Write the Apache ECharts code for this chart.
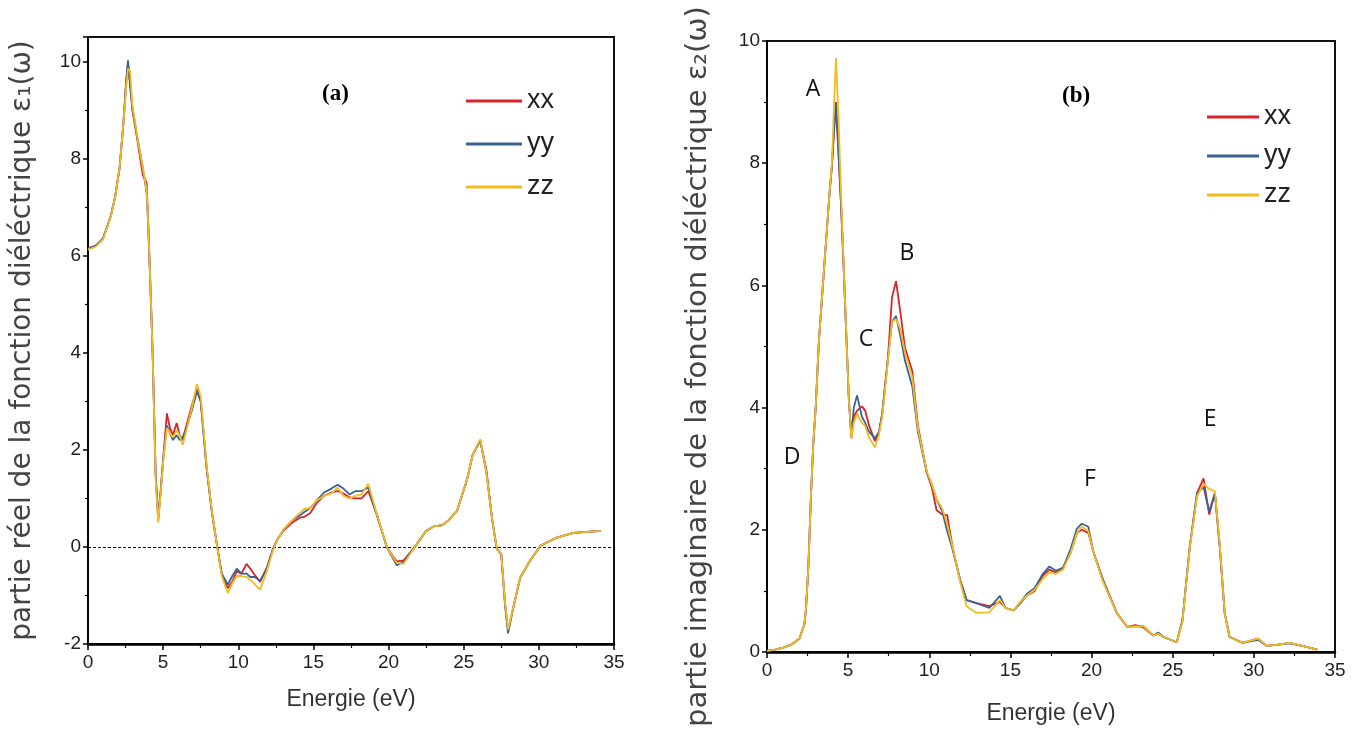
<!DOCTYPE html>
<html>
<head>
<meta charset="utf-8">
<script src="https://cdn.jsdelivr.net/npm/echarts@6/dist/echarts.min.js"></script>
<style>
  html, body { margin: 0; padding: 0; background: #fff; }
  #chart { width: 1363px; height: 751px; }
</style>
</head>
<body>
<div id="chart"></div>
<script>
// energies (eV) for panel (a) - real part
var energyA = [
  0, 0.5, 1.0, 1.5, 1.8, 2.1, 2.35, 2.55, 2.66, 2.8,
  2.95, 3.3, 3.65, 3.9, 4.0, 4.13, 4.3, 4.5, 4.67, 4.85,
  5.0, 5.25, 5.45, 5.65, 5.9, 6.1, 6.3, 6.55, 6.9, 7.25,
  7.5, 7.9, 8.25, 8.6, 8.9, 9.3, 9.6, 9.9, 10.2, 10.55,
  10.8, 11.1, 11.45, 11.9, 12.3, 12.6, 13.0, 13.6, 14.1, 14.4,
  14.8, 15.2, 15.7, 16.2, 16.6, 17.0, 17.4, 17.8, 18.2, 18.65,
  19.2, 19.9, 20.55, 21.0, 21.75, 22.5, 23.0, 23.6, 24.0, 24.55,
  25.2, 25.6, 26.1, 26.5, 26.9, 27.2, 27.5, 27.75, 27.95, 28.3,
  28.75, 29.4, 30.1, 30.6, 31.2, 32.3, 33.2, 34.1
];
var eps1xx = [
  6.15, 6.2, 6.35, 6.8, 7.2, 7.8, 8.7, 9.6, 9.95, 9.55,
  9.0, 8.35, 7.65, 7.5, 6.75, 5.6, 4.0, 1.5, 0.6, 1.2,
  1.8, 2.75, 2.45, 2.3, 2.55, 2.3, 2.2, 2.5, 2.9, 3.25,
  3.0, 1.6, 0.7, 0.0, -0.55, -0.85, -0.72, -0.5, -0.55, -0.35,
  -0.45, -0.58, -0.72, -0.43, -0.05, 0.15, 0.33, 0.5, 0.6, 0.62,
  0.7, 0.9, 1.05, 1.12, 1.15, 1.1, 1.02, 1.0, 1.0, 1.15,
  0.68, -0.02, -0.3, -0.28, 0.0, 0.33, 0.42, 0.45, 0.55, 0.74,
  1.36, 1.9, 2.19, 1.6, 0.55, -0.04, -0.15, -1.18, -1.73, -1.25,
  -0.64, -0.29, 0.02, 0.1, 0.19, 0.29, 0.31, 0.33
];
var eps1yy = [
  6.15, 6.2, 6.35, 6.8, 7.2, 7.8, 8.7, 9.65, 10.02, 9.5,
  9.05, 8.4, 7.8, 7.3, 6.65, 5.55, 4.0, 1.5, 0.55, 1.2,
  1.8, 2.5, 2.35, 2.2, 2.3, 2.2, 2.25, 2.45, 2.8, 3.2,
  3.0, 1.6, 0.7, 0.0, -0.55, -0.78, -0.6, -0.45, -0.55, -0.55,
  -0.62, -0.62, -0.7, -0.45, -0.05, 0.15, 0.35, 0.55, 0.65, 0.72,
  0.8, 0.95, 1.12, 1.2, 1.28, 1.2, 1.08, 1.15, 1.15, 1.22,
  0.68, -0.02, -0.38, -0.3, 0.0, 0.33, 0.42, 0.45, 0.55, 0.74,
  1.36, 1.9, 2.19, 1.55, 0.55, -0.04, -0.15, -1.2, -1.78, -1.25,
  -0.64, -0.29, 0.02, 0.1, 0.19, 0.29, 0.31, 0.33
];
var eps1zz = [
  6.12, 6.18, 6.33, 6.78, 7.2, 7.8, 8.7, 9.5, 9.85, 9.8,
  9.1, 8.4, 7.8, 7.35, 6.7, 5.6, 4.0, 1.4, 0.5, 1.15,
  1.75, 2.45, 2.35, 2.25, 2.4, 2.3, 2.1, 2.4, 2.85, 3.35,
  3.1, 1.65, 0.72, 0.0, -0.6, -0.95, -0.75, -0.6, -0.6, -0.62,
  -0.68, -0.77, -0.88, -0.5, -0.08, 0.15, 0.35, 0.55, 0.7, 0.78,
  0.8, 0.95, 1.05, 1.1, 1.22, 1.05, 1.0, 1.05, 1.08, 1.3,
  0.7, -0.02, -0.33, -0.35, 0.0, 0.33, 0.42, 0.45, 0.55, 0.74,
  1.36, 1.9, 2.22, 1.55, 0.55, -0.04, -0.15, -1.15, -1.7, -1.25,
  -0.64, -0.29, 0.02, 0.1, 0.19, 0.29, 0.31, 0.33
];

// energies (eV) for panel (b) - imaginary part
var energyB = [
  0, 0.5, 1.0, 1.5, 2.0, 2.3, 2.4, 2.55, 2.7, 2.85,
  3.0, 3.2, 3.55, 3.85, 4.0, 4.12, 4.25, 4.4, 4.55, 4.7,
  4.9, 5.05, 5.2, 5.35, 5.55, 5.85, 6.05, 6.3, 6.65, 6.9,
  7.1, 7.45, 7.7, 7.95, 8.2, 8.5, 8.95, 9.3, 9.85, 10.15,
  10.45, 10.8, 11.1, 11.5, 11.9, 12.3, 12.9, 13.7, 14.35, 14.7,
  15.2, 15.6, 16.0, 16.5, 17.0, 17.4, 17.8, 18.25, 18.7, 19.1,
  19.4, 19.8, 20.1, 20.7, 21.55, 22.2, 22.7, 23.2, 23.8, 24.1,
  24.4, 25.25, 25.6, 26.05, 26.5, 26.9, 27.25, 27.6, 27.9, 28.2,
  28.5, 29.3, 30.25, 30.8, 31.5, 32.2, 33.0, 33.9
];
var eps2xx = [
  0.02, 0.04, 0.07, 0.12, 0.22, 0.45, 0.7, 1.4, 2.5, 3.4,
  4.0, 5.1, 6.4, 7.5, 7.95, 8.5, 9.0, 8.2, 7.4, 6.45,
  5.1, 4.1, 3.5, 3.85, 3.95, 4.02, 3.95, 3.7, 3.45, 3.6,
  3.9, 4.8, 5.8, 6.07, 5.6, 4.98, 4.6, 3.7, 2.93, 2.7,
  2.32, 2.25, 2.24, 1.62, 1.18, 0.85, 0.8, 0.75, 0.82, 0.72,
  0.68, 0.8, 0.92, 1.0, 1.25, 1.35, 1.3, 1.38, 1.62, 1.95,
  2.0, 1.95, 1.65, 1.18, 0.64, 0.41, 0.44, 0.4, 0.27, 0.3,
  0.25, 0.16, 0.52, 1.72, 2.6, 2.84, 2.25, 2.6, 1.72, 0.64,
  0.25, 0.15, 0.22, 0.1, 0.12, 0.15, 0.1, 0.04
];
var eps2yy = [
  0.02, 0.04, 0.07, 0.12, 0.22, 0.45, 0.7, 1.4, 2.5, 3.4,
  4.0, 5.1, 6.4, 7.5, 7.95, 8.5, 8.97, 8.2, 7.4, 6.45,
  5.1, 4.1, 3.55, 4.0, 4.2, 3.85, 3.75, 3.6, 3.5, 3.6,
  3.9, 4.8, 5.4, 5.5, 5.2, 4.77, 4.35, 3.6, 2.93, 2.75,
  2.5, 2.3, 1.98, 1.62, 1.18, 0.85, 0.8, 0.72, 0.92, 0.72,
  0.68, 0.8, 0.95, 1.05, 1.28, 1.4, 1.33, 1.38, 1.68, 2.02,
  2.1, 2.05, 1.65, 1.18, 0.64, 0.41, 0.42, 0.42, 0.27, 0.32,
  0.25, 0.16, 0.52, 1.72, 2.6, 2.7, 2.3, 2.6, 1.72, 0.64,
  0.25, 0.15, 0.2, 0.1, 0.12, 0.14, 0.1, 0.04
];
var eps2zz = [
  0.02, 0.04, 0.07, 0.12, 0.22, 0.45, 0.7, 1.4, 2.5, 3.4,
  4.0, 5.1, 6.4, 7.5, 8.0, 8.9, 9.72, 8.8, 7.6, 6.5,
  5.1, 4.1, 3.5, 3.75, 3.9, 3.75, 3.7, 3.5, 3.35, 3.55,
  3.85, 4.75, 5.4, 5.45, 5.3, 4.9, 4.5, 3.65, 2.95, 2.75,
  2.5, 2.35, 2.1, 1.65, 1.15, 0.75, 0.64, 0.65, 0.85, 0.72,
  0.68, 0.82, 0.92, 1.02, 1.2, 1.3, 1.28, 1.35, 1.62, 1.95,
  2.05, 1.98, 1.65, 1.15, 0.64, 0.41, 0.42, 0.42, 0.27, 0.3,
  0.25, 0.16, 0.5, 1.7, 2.55, 2.75, 2.67, 2.63, 1.75, 0.64,
  0.25, 0.15, 0.22, 0.1, 0.12, 0.15, 0.1, 0.04
];

var seriesNames = ['xx', 'yy', 'zz'];
var seriesColors = ['#d8232a', '#3b6391', '#f3bb22'];

// peak labels of panel (b), in data coordinates
var peakNames = ['A', 'B', 'C', 'D', 'E', 'F'];
var peakEnergy = [2.83, 8.63, 6.1, 1.54, 27.3, 19.9];
var peakValue = [9.21, 6.53, 5.12, 3.19, 3.8, 2.83];

var narrow = "'Liberation Sans Narrow', 'Liberation Sans', Arial, sans-serif";
var wide = "'DejaVu Sans', 'Liberation Sans', sans-serif";

function zip(xs, ys) {
  return xs.map(function (x, i) { return [x, ys[i]]; });
}

function xAxisFor(idx) {
  return {
    type: 'value', gridIndex: idx, min: 0, max: 35, interval: 5,
    name: 'Energie (eV)', nameLocation: 'middle', nameGap: idx === 0 ? 44 : 50,
    nameTextStyle: { fontFamily: narrow, fontSize: 23, color: '#333' },
    axisLine: { onZero: false, lineStyle: { color: '#000', width: 2.5 } },
    axisTick: { inside: false, length: 6, lineStyle: { color: '#000', width: 1.5 } },
    minorTick: { show: true, splitNumber: 2, length: 4, lineStyle: { color: '#000', width: 1.2 } },
    axisLabel: { fontFamily: narrow, fontSize: 19, color: '#222', margin: 9 },
    splitLine: { show: false }
  };
}

function yAxisFor(idx) {
  var isA = idx === 0;
  return {
    type: 'value', gridIndex: idx, min: isA ? -2 : 0, max: isA ? 10.5 : 10, interval: 2,
    name: isA ? 'partie réel de la fonction diéléctrique ε₁(ω)' : 'partie imaginaire de la fonction diéléctrique ε₂(ω)',
    nameLocation: 'middle', nameRotate: 90, nameGap: isA ? 51 : 54,
    nameTextStyle: { fontFamily: wide, fontSize: isA ? 28 : 29, color: '#444', padding: isA ? 0 : [0, 40, 0, 0] },
    axisLine: { onZero: false, lineStyle: { color: '#000', width: 1.5 } },
    axisTick: { inside: false, length: 5, lineStyle: { color: '#000', width: 1.5 } },
    minorTick: { show: true, splitNumber: 2, length: 3, lineStyle: { color: '#000', width: 1.2 } },
    axisLabel: {
      fontFamily: narrow, fontSize: 19, color: '#222', margin: 7,
      formatter: function (v) { return v % 2 === 0 ? String(v) : ''; }
    },
    splitLine: { show: false }
  };
}

var panelA = [eps1xx, eps1yy, eps1zz];
var panelB = [eps2xx, eps2yy, eps2zz];

var series = [];
panelA.forEach(function (vals, i) {
  var s = {
    name: seriesNames[i], type: 'line', xAxisIndex: 0, yAxisIndex: 0,
    data: zip(energyA, vals), showSymbol: false, symbol: 'none',
    lineStyle: { color: seriesColors[i], width: 1.8 }, itemStyle: { color: seriesColors[i] },
    z: 3 + i
  };
  if (i === 0) {
    // dotted zero line
    s.markLine = {
      silent: true, symbol: 'none', label: { show: false },
      lineStyle: { color: '#000', type: [3, 2], width: 1 },
      data: [{ yAxis: 0 }]
    };
  }
  series.push(s);
});
panelB.forEach(function (vals, i) {
  var s = {
    name: seriesNames[i], type: 'line', xAxisIndex: 1, yAxisIndex: 1,
    data: zip(energyB, vals), showSymbol: false, symbol: 'none',
    lineStyle: { color: seriesColors[i], width: 1.8 }, itemStyle: { color: seriesColors[i] },
    z: 3 + i
  };
  if (i === 2) {
    s.markPoint = {
      symbol: 'rect', symbolSize: 1, silent: true,
      itemStyle: { color: 'rgba(0,0,0,0)' },
      label: {
        show: true, position: 'inside', formatter: '{b}',
        fontFamily: "'Open Sans', 'Noto Sans', sans-serif", fontSize: 23, color: '#111'
      },
      data: peakNames.map(function (n, k) {
        return { name: n, coord: [peakEnergy[k], peakValue[k]] };
      })
    };
  }
  series.push(s);
});

function legendFor(left, top, gap, width) {
  return {
    data: seriesNames, orient: 'vertical', left: left, top: top,
    icon: 'rect', itemWidth: width, itemHeight: 3, itemGap: gap, padding: 0,
    selectedMode: false,
    textStyle: { fontFamily: narrow, fontSize: 27, lineHeight: 28, color: '#222' }
  };
}

var chart = echarts.init(document.getElementById('chart'));
chart.setOption({
  backgroundColor: '#fff',
  animation: false,
  grid: [
    { left: 88, top: 37, width: 526, height: 607, show: true, borderColor: '#111', borderWidth: 2, backgroundColor: 'transparent' },
    { left: 767, top: 41, width: 568, height: 611, show: true, borderColor: '#111', borderWidth: 2, backgroundColor: 'transparent' }
  ],
  xAxis: [xAxisFor(0), xAxisFor(1)],
  yAxis: [yAxisFor(0), yAxisFor(1)],
  legend: [legendFor(466, 87, 15, 56), legendFor(1207, 103, 11, 52)],
  graphic: [
    { type: 'text', left: 322, top: 83, style: { text: '(a)', font: "bold 23px 'Liberation Serif', 'DejaVu Serif', serif", fill: '#000' } },
    { type: 'text', left: 1062, top: 85, style: { text: '(b)', font: "bold 23px 'Liberation Serif', 'DejaVu Serif', serif", fill: '#000' } }
  ],
  series: series
});
</script>
</body>
</html>
